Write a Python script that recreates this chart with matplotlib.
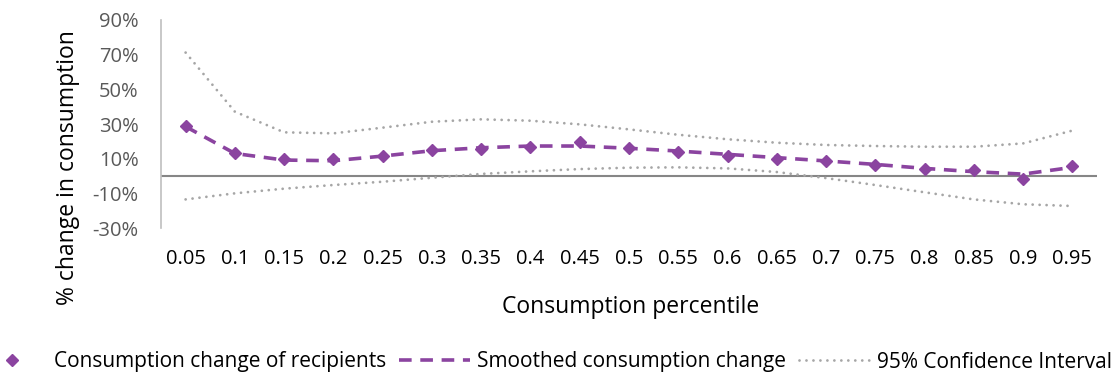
import numpy as np
import matplotlib.pyplot as plt

plt.rcParams['font.family'] = ['Open Sans', 'DejaVu Sans']

# Consumption percentile categories
percentiles = ["0.05", "0.1", "0.15", "0.2", "0.25", "0.3", "0.35", "0.4", "0.45", "0.5",
               "0.55", "0.6", "0.65", "0.7", "0.75", "0.8", "0.85", "0.9", "0.95"]

# % change values
recipients = [28.9, 13.1, 9.8, 9.6, 11.7, 15.2, 15.4, 16.7, 19.4, 16.2,
              13.7, 11.4, 9.6, 8.8, 6.3, 4.2, 3.5, -1.5, 5.6]
smoothed = [28.5, 13.0, 9.2, 8.8, 11.5, 14.6, 16.3, 17.3, 17.3, 16.0,
            14.4, 12.5, 10.6, 8.7, 6.7, 4.4, 2.5, 1.1, 5.0]
ci_upper = [71.2, 37.1, 25.2, 24.6, 27.9, 31.3, 32.7, 31.9, 29.8, 26.9,
            23.8, 21.2, 19.2, 17.9, 17.3, 16.9, 16.9, 18.8, 26.2]
ci_lower = [-13.5, -10.0, -7.3, -5.2, -3.3, -1.0, 1.2, 2.7, 4.0, 4.8,
            5.0, 4.4, 2.3, -1.2, -5.2, -9.4, -13.5, -16.3, -17.3]

purple = "#8B44A0"
grey = "#A6A6A6"

x = np.arange(len(percentiles))

fig = plt.figure(figsize=(11.11, 3.73), dpi=100)
ax = fig.add_axes([0.1449, 0.3887, 0.8425, 0.5577])

# round dots for the confidence bounds
ci_style = dict(color=grey, lw=2.0, dashes=(0.01, 2.5), dash_capstyle='round')
ax.plot(x, ci_upper, label="95% Confidence Interval", **ci_style)
ax.plot(x, ci_lower, **ci_style)
ax.plot(x, smoothed, color=purple, lw=2.6, dashes=(3.5, 2.4),
        label="Smoothed consumption change")
ax.plot(x, recipients, linestyle='none', marker='D', ms=6.5, color=purple,
        label="Consumption change of recipients")

ax.axhline(0, color="#868686", lw=1.5, zorder=1)

ax.set_xlim(-0.5, len(percentiles) - 0.5)
ax.set_ylim(-30, 90)
ax.set_yticks(np.arange(-30, 91, 20))
ax.set_yticklabels([f"{v}%" for v in range(-30, 91, 20)])
ax.set_xticks(x)
ax.set_xticklabels(percentiles)

for s in ["top", "right", "bottom"]:
    ax.spines[s].set_visible(False)
ax.spines["left"].set_color("#BFBFBF")
ax.spines["left"].set_linewidth(1.2)
ax.tick_params(axis='y', length=0, labelsize=14.5, labelcolor="#595959", pad=16)
ax.tick_params(axis='x', length=0, labelsize=14.5, labelcolor="black", pad=15)

fig.text(68 / 1111, 1 - 168 / 373, "% change in consumption", rotation=90,
         ha="center", va="center", fontsize=16.5)
fig.text(631 / 1111, 1 - 307 / 373, "Consumption percentile",
         ha="center", va="center", fontsize=16.5)

handles, labels = ax.get_legend_handles_labels()
order = [2, 1, 0]
fig.legend([handles[i] for i in order], [labels[i] for i in order],
           loc="center", bbox_to_anchor=(544 / 1111, 1 - 362 / 373), ncol=3, frameon=False,
           fontsize=15, handlelength=3.4, columnspacing=0.6, handletextpad=0.35,
           borderpad=0, borderaxespad=0)

fig.savefig("out.png", dpi=100)
